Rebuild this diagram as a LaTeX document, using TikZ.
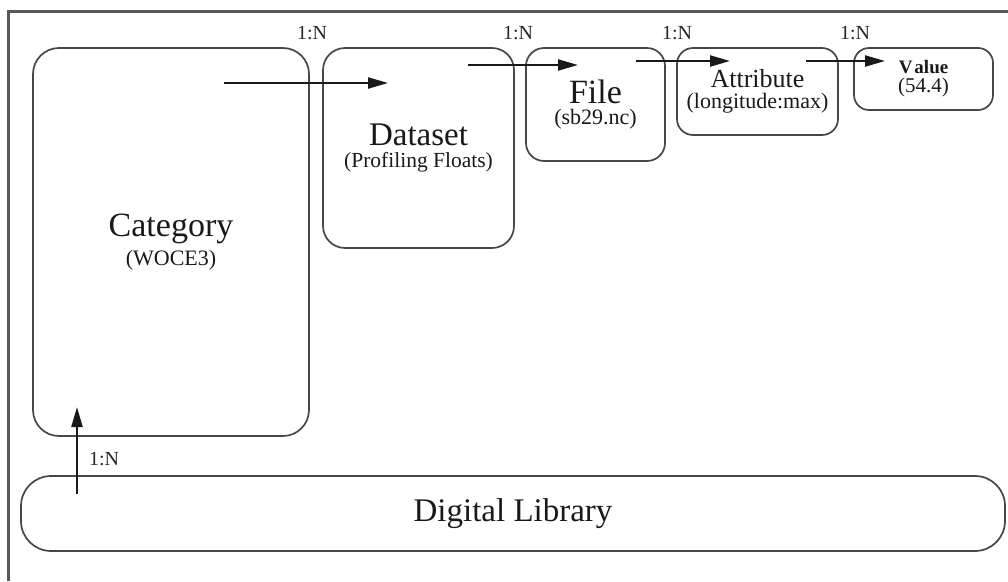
\documentclass[tikz,border=0pt]{standalone}
\usepackage{fontspec}
\setmainfont{Liberation Serif}
\usetikzlibrary{arrows.meta}

\newcommand{\fsz}[1]{\fontsize{#1}{#1}\selectfont}

\tikzset{
  entity/.style={draw=black!72, line width=1.7pt, rounded corners=#1,
    inner sep=0pt, align=center, text=black!90},
  entity/.default=22pt,
  link/.style={line width=2.2pt, black!90,
    -{Triangle[length=20pt,width=11pt]}},
  card/.style={inner sep=0pt, text=black!85, font=\fsz{20}},
  frameline/.style={line width=3pt, black!65}
}

\begin{document}
\begin{tikzpicture}[x=1pt, y=-1pt]
  \useasboundingbox (0,0) rectangle (1008,581);

  % outer frame (only top and left edges fall within the page)
  \draw[frameline] (8,581) -- (8,11) -- (1008,11);

  % entities
  \node[entity=26pt, minimum width=276pt, minimum height=388pt] (cat) at (171,242)
    {{\fsz{34}Category}\\[6pt]{\fsz{22}(WOCE3)}};
  \node[entity=22pt, minimum width=191pt, minimum height=200pt] (ds) at (418.5,148)
    {{\fsz{33}Dataset}\\[5pt]{\fsz{21.5}(Profiling Floats)}};
  \node[entity=18pt, minimum width=139pt, minimum height=113pt] (file) at (595.5,104.5)
    {{\fsz{34}File}\\[5pt]{\fsz{22}(sb29.nc)}};
  \node[entity=16pt, minimum width=161pt, minimum height=87pt] (attr) at (757.5,91.5)
    {{\fsz{26}Attribute}\\[4pt]{\fsz{22}(longitude:max)}};
  \node[entity=15pt, minimum width=139pt, minimum height=62pt] (val) at (923.5,79)
    {{\fsz{19}\bfseries V\kern2pt alue}\\[3pt]{\fsz{21}(54.4)}};
  \node[entity=30pt, minimum width=984pt, minimum height=75pt] (dl) at (513,513.5)
    {\fsz{33}Digital Library};

  % arrow end points
  \coordinate (catOut) at (224,83);
  \coordinate (dsIn)   at (388,83);
  \coordinate (dsOut)  at (468,65);
  \coordinate (fileIn) at (578,65);
  \coordinate (fileOut) at (636,61);
  \coordinate (attrIn) at (730,61);
  \coordinate (attrOut) at (806,61);
  \coordinate (valIn)  at (885,61);
  \coordinate (dlOut)  at (77,494);
  \coordinate (catIn)  at (77,407);

  % one-to-many links
  \draw[link] (catOut) -- (dsIn);
  \draw[link] (dsOut) -- (fileIn);
  \draw[link] (fileOut) -- (attrIn);
  \draw[link] (attrOut) -- (valIn);
  \draw[link] (dlOut) -- (catIn);

  % cardinality labels
  \node[card] (c1) at (312,33) {1:N};
  \node[card] (c2) at (518,33) {1:N};
  \node[card] (c3) at (677,33) {1:N};
  \node[card] (c4) at (855,33) {1:N};
  \node[card] (c5) at (104,459) {1:N};
\end{tikzpicture}
\end{document}
